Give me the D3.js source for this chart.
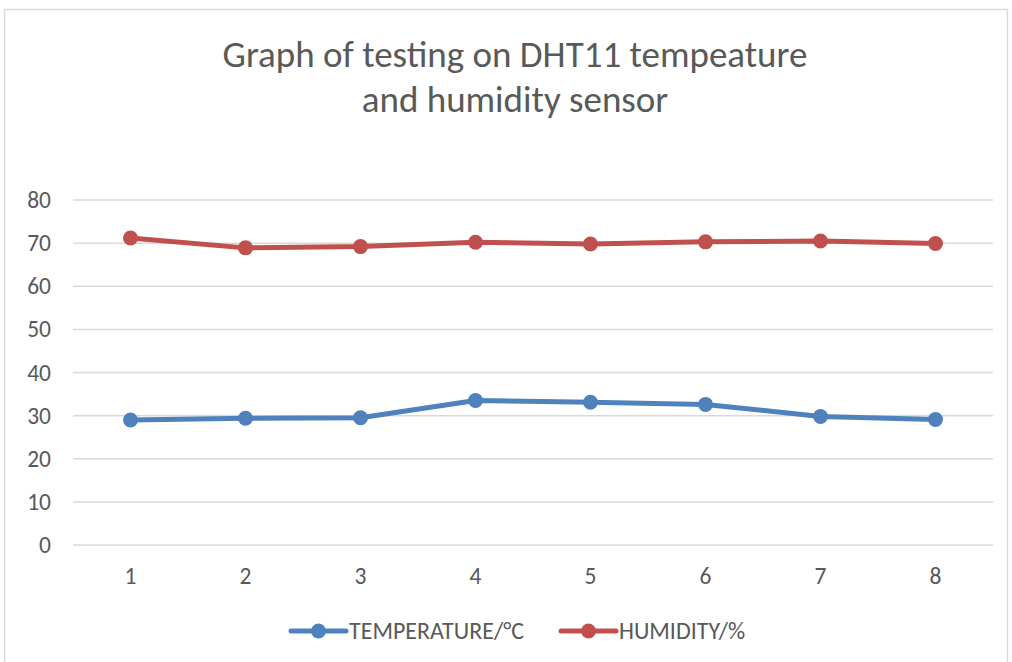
<!DOCTYPE html>
<meta charset="utf-8">
<style>
  body { margin: 0; background: #fff; }
  text { font-family: Calibri, Carlito, "Liberation Sans", sans-serif; fill: #595959; }
</style>
<svg width="1012" height="662"></svg>
<script src="https://d3js.org/d3.v7.min.js"></script>
<script>

var categories = ["1", "2", "3", "4", "5", "6", "7", "8"],
    temperature = [29.0, 29.4, 29.5, 33.5, 33.1, 32.6, 29.8, 29.1],
    humidity = [71.2, 68.9, 69.2, 70.2, 69.8, 70.3, 70.5, 69.9],
    yTicks = [0, 10, 20, 30, 40, 50, 60, 70, 80],
    titleLines = ["Graph of testing on DHT11 tempeature", "and humidity sensor"];

var series = [
  {name: "TEMPERATURE/°C", values: temperature, color: "#4f81bd"},
  {name: "HUMIDITY/%", values: humidity, color: "#c0504d"}
];

var svg = d3.select("svg");

// chart area border
svg.append("rect")
    .attr("x", 4.5).attr("y", 9.5)
    .attr("width", 1003).attr("height", 700)
    .attr("fill", "#fff")
    .attr("stroke", "#d9d9d9")
    .attr("stroke-width", 1.5);

svg.append("g").selectAll("text")
  .data(titleLines)
  .join("text")
    .attr("x", 515)
    .attr("y", function(d, i) { return 67 + i * 45; })
    .attr("text-anchor", "middle")
    .style("font-size", "37px")
    .text(function(d) { return d; });

var x = d3.scaleBand().domain(categories).range([73, 993]),
    y = d3.scaleLinear().domain([0, 80]).range([545, 200]);

// gridlines
svg.append("g").selectAll("line")
  .data(yTicks)
  .join("line")
    .attr("x1", 73).attr("x2", 993)
    .attr("y1", function(d) { return y(d); })
    .attr("y2", function(d) { return y(d); })
    .attr("stroke", "#d9d9d9")
    .attr("stroke-width", 1.5);

var yAxis = svg.append("g")
    .attr("transform", "translate(73,0)")
    .call(d3.axisLeft(y).tickValues(yTicks).tickSize(0).tickPadding(22));
yAxis.select(".domain").remove();
yAxis.selectAll("text").style("font-size", "23.5px").attr("fill", "#595959");

var xAxis = svg.append("g")
    .attr("transform", "translate(0,545)")
    .call(d3.axisBottom(x).tickSize(0).tickPadding(22));
xAxis.select(".domain").remove();
xAxis.selectAll("text").style("font-size", "23.5px").attr("fill", "#595959");

var line = d3.line()
    .x(function(d, i) { return x(categories[i]) + x.bandwidth() / 2; })
    .y(function(d) { return y(d); });

series.forEach(function(s) {
  var g = svg.append("g");
  g.append("path")
      .attr("d", line(s.values))
      .attr("fill", "none")
      .attr("stroke", s.color)
      .attr("stroke-width", 5)
      .attr("stroke-linejoin", "round");
  g.selectAll("circle")
    .data(s.values)
    .join("circle")
      .attr("cx", function(d, i) { return x(categories[i]) + x.bandwidth() / 2; })
      .attr("cy", function(d) { return y(d); })
      .attr("r", 7.5)
      .attr("fill", s.color);
});

// legend
var legendX = [291, 561];
var legend = svg.append("g").selectAll("g")
  .data(series)
  .join("g")
    .attr("transform", function(d, i) { return "translate(" + legendX[i] + ",631)"; });
legend.append("line")
    .attr("x1", 0).attr("x2", 55)
    .attr("stroke", function(d) { return d.color; })
    .attr("stroke-width", 5)
    .attr("stroke-linecap", "round");
legend.append("circle")
    .attr("cx", 27.5).attr("r", 7.5)
    .attr("fill", function(d) { return d.color; });
legend.append("text")
    .attr("x", 58).attr("dy", "0.35em")
    .style("font-size", "24px")
    .text(function(d) { return d.name; });

</script>
